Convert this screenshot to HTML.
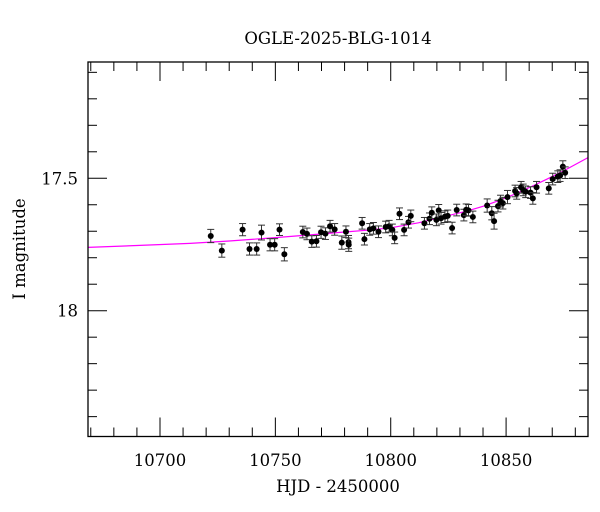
<!DOCTYPE html>
<html><head><meta charset="utf-8"><style>
html,body{margin:0;padding:0;background:#fff;}
svg{display:block;font-family:"DejaVu Serif","Liberation Serif",serif;}
</style></head><body>
<svg id="chart" width="600" height="512" viewBox="0 0 600 512" xmlns="http://www.w3.org/2000/svg">
<text x="338" y="44" text-anchor="middle" font-size="16.5">OGLE-2025-BLG-1014</text>
<text x="338" y="492" text-anchor="middle" font-size="16.5">HJD - 2450000</text>
<text transform="translate(25,249) rotate(-90)" text-anchor="middle" font-size="16.5">I magnitude</text>
<g id="ticks"></g><g id="model"></g><g id="points"></g>
<rect x="88" y="62" width="500" height="374.5" fill="none" stroke="#000" stroke-width="1.3"/>
</svg>
<script>
const days=[10722.0,10726.8,10735.8,10738.8,10741.9,10744.0,10747.7,10749.7,10751.8,10753.9,10761.9,10763.7,10765.8,10767.8,10769.8,10771.7,10773.7,10775.7,10778.8,10780.6,10781.7,10781.8,10787.6,10788.6,10790.9,10792.5,10794.7,10797.8,10799.3,10800.7,10801.7,10803.8,10805.8,10807.7,10808.7,10814.6,10816.8,10817.8,10819.8,10820.8,10821.8,10823.5,10824.7,10826.6,10828.6,10831.7,10832.7,10833.7,10835.6,10841.8,10843.8,10844.8,10846.5,10847.6,10848.6,10850.6,10853.9,10854.6,10856.5,10857.4,10858.5,10860.6,10861.6,10863.2,10868.5,10870.2,10872.4,10873.4,10874.6,10875.6];
const mags=[17.718,17.773,17.694,17.767,17.767,17.705,17.751,17.751,17.694,17.787,17.703,17.710,17.739,17.738,17.704,17.709,17.681,17.693,17.743,17.702,17.741,17.751,17.670,17.730,17.693,17.689,17.702,17.684,17.681,17.695,17.725,17.634,17.695,17.666,17.642,17.670,17.653,17.630,17.657,17.621,17.651,17.645,17.642,17.688,17.620,17.639,17.619,17.621,17.646,17.603,17.632,17.662,17.605,17.586,17.594,17.571,17.548,17.557,17.534,17.544,17.551,17.554,17.576,17.534,17.538,17.503,17.494,17.490,17.456,17.479];
const errs=[0.025,0.025,0.023,0.023,0.023,0.028,0.023,0.023,0.022,0.025,0.022,0.022,0.022,0.022,0.023,0.022,0.022,0.022,0.025,0.022,0.025,0.025,0.022,0.022,0.022,0.022,0.022,0.022,0.022,0.022,0.022,0.022,0.022,0.022,0.022,0.022,0.022,0.022,0.022,0.022,0.022,0.022,0.022,0.022,0.022,0.022,0.022,0.022,0.022,0.025,0.025,0.03,0.022,0.022,0.022,0.025,0.022,0.022,0.022,0.022,0.022,0.022,0.022,0.022,0.022,0.022,0.022,0.022,0.022,0.022];
const modelDays=[10668,10690,10713,10730,10750,10765,10780,10790,10800,10812,10825,10833,10840,10847,10854,10861,10868,10876,10886];
const modelMags=[17.761,17.754,17.746,17.737,17.724,17.714,17.703,17.696,17.687,17.668,17.641,17.624,17.606,17.584,17.559,17.531,17.502,17.467,17.422];
const xMajor=[10700,10750,10800,10850];
const yMajor=[17.5,18];
const xMin=10668.8,xMax=10885.5,yMin=17.061,yMax=18.475;
const L=88,R=588,T=62,B=436.5;
const X=d=>L+(d-xMin)/(xMax-xMin)*(R-L);
const Y=m=>T+(m-yMin)/(yMax-yMin)*(B-T);
const NS="http://www.w3.org/2000/svg";
function mk(tag,attrs,parent){const e=document.createElementNS(NS,tag);for(const k in attrs)e.setAttribute(k,attrs[k]);parent.appendChild(e);return e;}
const tg=document.getElementById('ticks');
for(let d=10670;d<=10880;d+=10){
  const x=X(d);const maj=xMajor.includes(d);const len=maj?19:9;
  let t=mk('line',{x1:x,x2:x,y1:B,y2:B-len,stroke:'#000','stroke-width':1},tg);
  
  t=mk('line',{x1:x,x2:x,y1:T,y2:T+len,stroke:'#000','stroke-width':1},tg);
  
  if(maj){const tx=mk('text',{x:x,y:466,'text-anchor':'middle','font-size':16.5},tg);tx.textContent=d;
  }
}
for(let i=11;i<=184;i++){
  const m=i/10;if(m<yMin||m>yMax)continue;const y=Y(m);const maj=yMajor.some(v=>Math.abs(v-m)<1e-6);const len=maj?19:9;
  let t=mk('line',{x1:L,x2:L+len,y1:y,y2:y,stroke:'#000','stroke-width':1},tg);
  
  t=mk('line',{x1:R,x2:R-len,y1:y,y2:y,stroke:'#000','stroke-width':1},tg);
  
  if(maj){const tx=mk('text',{x:78,y:y+6,'text-anchor':'end','font-size':16.5},tg);tx.textContent=(m===18?'18':m.toFixed(1));
  }
}
const mg=document.getElementById('model');
const pts=modelDays.map((d,i)=>X(Math.min(Math.max(d,xMin),xMax)).toFixed(1)+','+Y(modelMags[i]).toFixed(1)).join(' ');
const pl=mk('polyline',{points:pts,fill:'none',stroke:'#ff00ff','stroke-width':1.2},mg);


const pg=document.getElementById('points');
days.forEach((d,i)=>{
  const x=X(d),y=Y(mags[i]),e=errs[i]/(yMax-yMin)*(B-T);
  const g=mk('g',{},pg);
  
  
  mk('line',{x1:x,x2:x,y1:y-e,y2:y+e,stroke:'#333','stroke-width':1},g);
  mk('line',{x1:x-3.5,x2:x+3.5,y1:y-e,y2:y-e,stroke:'#333','stroke-width':1},g);
  mk('line',{x1:x-3.5,x2:x+3.5,y1:y+e,y2:y+e,stroke:'#333','stroke-width':1},g);
  mk('circle',{cx:x,cy:y,r:3,fill:'#000'},g);
});
</script>
</body></html>
